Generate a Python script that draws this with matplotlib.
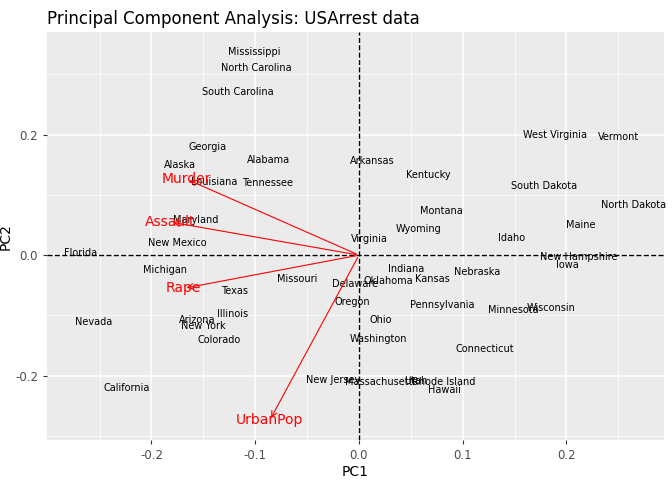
import matplotlib.pyplot as plt
import numpy as np

# state scores (PC1, PC2)
states = ['Mississippi', 'North Carolina', 'South Carolina', 'Georgia', 'Alaska',
          'Alabama', 'Louisiana', 'Tennessee', 'Arkansas', 'Kentucky',
          'West Virginia', 'Vermont', 'South Dakota', 'North Dakota', 'Maryland',
          'Montana', 'Maine', 'Wyoming', 'Idaho', 'Virginia', 'New Mexico',
          'Florida', 'New Hampshire', 'Iowa', 'Michigan', 'Indiana', 'Nebraska',
          'Kansas', 'Oklahoma', 'Delaware', 'Missouri', 'Texas', 'Oregon',
          'Pennsylvania', 'Minnesota', 'Wisconsin', 'Illinois', 'Arizona', 'Ohio',
          'Nevada', 'New York', 'Colorado', 'Washington', 'Connecticut',
          'New Jersey', 'Massachusetts', 'Utah', 'Rhode Island', 'Hawaii',
          'California']
pc1 = [-0.101, -0.099, -0.117, -0.146, -0.173, -0.087, -0.140, -0.088, 0.013, 0.067,
       0.189, 0.250, 0.178, 0.265, -0.157, 0.079, 0.214, 0.057, 0.147, 0.010,
       -0.175, -0.268, 0.212, 0.201, -0.187, 0.045, 0.114, 0.071, 0.028, -0.004,
       -0.060, -0.120, -0.006, 0.080, 0.149, 0.185, -0.122, -0.156, 0.021, -0.256,
       -0.150, -0.135, 0.019, 0.121, -0.025, 0.022, 0.055, 0.082, 0.082, -0.224]
pc2 = [0.337, 0.310, 0.271, 0.179, 0.149, 0.158, 0.121, 0.120, 0.156, 0.133,
       0.199, 0.196, 0.115, 0.083, 0.058, 0.073, 0.050, 0.043, 0.028, 0.027,
       0.020, 0.003, -0.003, -0.017, -0.025, -0.023, -0.028, -0.040, -0.043, -0.048,
       -0.040, -0.060, -0.078, -0.083, -0.091, -0.088, -0.098, -0.108, -0.108, -0.111,
       -0.118, -0.141, -0.139, -0.156, -0.207, -0.211, -0.209, -0.211, -0.224, -0.221]

# loadings (scaled)
variables = ['Murder', 'Assault', 'Rape', 'UrbanPop']
load1 = [-0.166, -0.182, -0.169, -0.086]
load2 = [0.126, 0.055, -0.055, -0.274]

fig = plt.figure(figsize=(6.72, 4.8), dpi=100)
ax = fig.add_axes([0.070, 0.083, 0.918, 0.850])
ax.set_facecolor('#EBEBEB')
for s in ax.spines.values():
    s.set_visible(False)

ax.set_xlim(-0.3007, 0.294)
ax.set_ylim(-0.307, 0.370)
ax.set_xticks([-0.2, -0.1, 0, 0.1, 0.2])
ax.set_xticklabels(['-0.2', '-0.1', '0.0', '0.1', '0.2'])
ax.set_yticks([-0.2, 0, 0.2])
ax.set_yticklabels(['-0.2', '0.0', '0.2'])
ax.set_xticks(np.arange(-0.25, 0.3, 0.1), minor=True)
ax.set_yticks([-0.3, -0.1, 0.1, 0.3], minor=True)
ax.grid(True, which='major', color='white', lw=1.1)
ax.grid(True, which='minor', color='white', lw=0.5)
ax.set_axisbelow(True)
ax.tick_params(which='both', length=3, color='#333333', labelsize=8.5, labelcolor='#4D4D4D')
ax.tick_params(which='minor', length=0)

ax.axhline(0, color='black', ls='--', lw=1)
ax.axvline(0, color='black', ls='--', lw=1)

for name, x, y in zip(states, pc1, pc2):
    ax.text(x, y, name, fontsize=7, ha='center', va='center', color='black')

for name, x, y in zip(variables, load1, load2):
    ax.annotate('', xy=(x, y), xytext=(0, 0),
                arrowprops=dict(arrowstyle='->', color='red', lw=0.8))
    ax.text(x, y, name, fontsize=10, ha='center', va='center', color='red')

ax.set_xlabel('PC1', fontsize=10, labelpad=2)
ax.set_ylabel('PC2', fontsize=10, labelpad=2)
ax.set_title('Principal Component Analysis: USArrest data', fontsize=12, loc='left')

fig.savefig('out.png')
